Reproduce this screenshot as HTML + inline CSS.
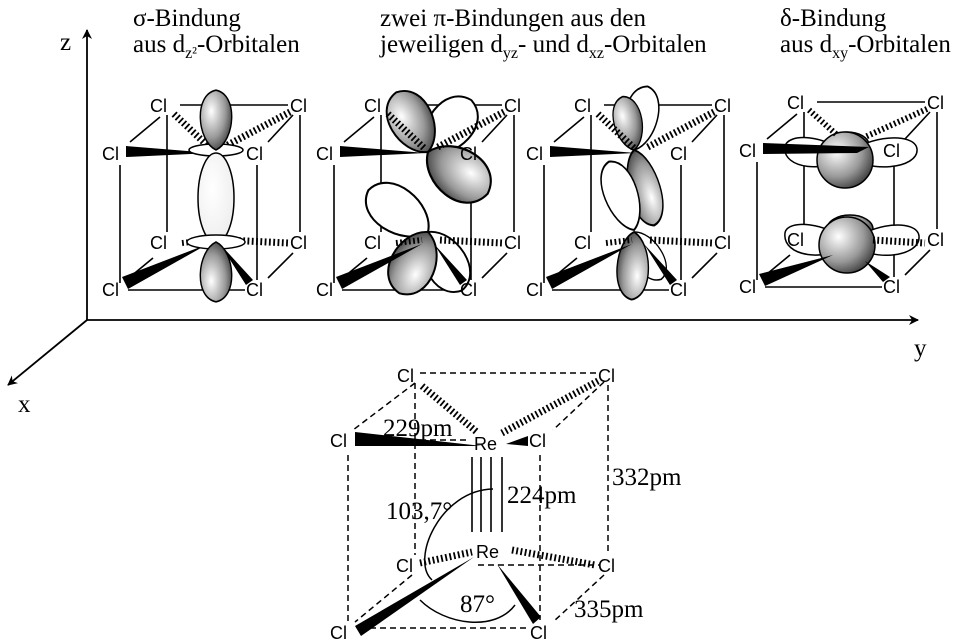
<!DOCTYPE html>
<html><head><meta charset="utf-8"><style>
body{margin:0;background:#fff}
svg{display:block}
.t{font-family:"Liberation Serif",serif;font-size:25px}
.c{font-family:"Liberation Sans",sans-serif;font-size:18px}
</style></head><body>
<svg width="960" height="644" viewBox="0 0 960 644" xmlns="http://www.w3.org/2000/svg">
<defs>
<radialGradient id="g" cx="0.35" cy="0.35" r="0.75"><stop offset="0" stop-color="#fff"/><stop offset="0.6" stop-color="#999"/><stop offset="1" stop-color="#333"/></radialGradient>
<radialGradient id="gw" cx="0.4" cy="0.4" r="0.8"><stop offset="0" stop-color="#fff"/><stop offset="0.8" stop-color="#eee"/><stop offset="1" stop-color="#999"/></radialGradient>
<marker id="ar" markerWidth="10" markerHeight="10" refX="9" refY="5" orient="auto" markerUnits="userSpaceOnUse"><path d="M0,0 L10,5 L0,10 L3,5Z" fill="#000"/></marker>
<path id="lobe" d="M0,0 C-20,-8 -24,-48 0,-52 C24,-48 20,-8 0,0Z"/>
<g id="frame" stroke="#000" stroke-width="1.6" fill="none">
<line x1="180" y1="105" x2="288" y2="105"/>
<line x1="167" y1="115" x2="167" y2="232"/><line x1="300" y1="115" x2="300" y2="232"/>
<line x1="120" y1="165" x2="120" y2="283"/><line x1="257" y1="165" x2="257" y2="280"/>
<line x1="128" y1="290" x2="245" y2="290"/>
<line x1="130" y1="142" x2="160" y2="117"/><line x1="268" y1="142" x2="293" y2="115"/>
<line x1="130" y1="277" x2="153" y2="258"/><line x1="268" y1="278" x2="293" y2="253"/>
</g>
<g id="cls" class="c">
<text x="150" y="112">Cl</text><text x="290" y="112">Cl</text>
<text x="102" y="160">Cl</text><text x="246" y="160">Cl</text>
<text x="150" y="249">Cl</text><text x="290" y="249">Cl</text>
<text x="102" y="296">Cl</text><text x="246" y="296">Cl</text>
</g>
<g id="bondsU">
<path d="M126,146 L126,157 L212,153Z" fill="#000"/>
<line x1="174" y1="114" x2="210" y2="148" stroke="#000" stroke-dasharray="1.8,2.5" stroke-width="7"/>
<line x1="290" y1="112" x2="222" y2="148" stroke="#000" stroke-dasharray="1.8,2.5" stroke-width="7"/>
</g>
<g id="bondsL">
<line x1="182" y1="243" x2="208" y2="240" stroke="#000" stroke-dasharray="1.8,2.5" stroke-width="6"/>
<line x1="226" y1="240" x2="288" y2="243" stroke="#000" stroke-dasharray="1.8,2.5" stroke-width="7"/>
<path d="M122,277 L128,289 L208,244Z" fill="#000"/>
<path d="M220,244 L246,285 L253,280Z" fill="#000"/>
</g>
</defs>

<g stroke="#000" stroke-width="1.8">
<line x1="87" y1="320" x2="87" y2="30" marker-end="url(#ar)"/>
<line x1="87" y1="320" x2="918" y2="320" marker-end="url(#ar)"/>
<line x1="87" y1="320" x2="8" y2="385" marker-end="url(#ar)"/>
</g>
<text class="t" x="60" y="50">z</text>
<text class="t" x="914" y="356">y</text>
<text class="t" x="18" y="412">x</text>

<text class="t" x="133" y="26">σ-Bindung</text>
<text class="t" x="133" y="52">aus d<tspan font-size="16" dy="6">z²</tspan><tspan dy="-6">-Orbitalen</tspan></text>
<text class="t" x="380" y="26">zwei π-Bindungen aus den</text>
<text class="t" x="380" y="52">jeweiligen d<tspan font-size="16" dy="6">yz</tspan><tspan dy="-6">- und d</tspan><tspan font-size="16" dy="6">xz</tspan><tspan dy="-6">-Orbitalen</tspan></text>
<text class="t" x="780" y="26">δ-Bindung</text>
<text class="t" x="780" y="52">aus d<tspan font-size="16" dy="6">xy</tspan><tspan dy="-6">-Orbitalen</tspan></text>

<!-- cube 1 sigma -->
<g>
<use href="#frame"/>
<use href="#bondsU"/><use href="#bondsL"/>
<g stroke="#000" stroke-width="1.5">
<ellipse cx="216" cy="150" rx="27" ry="6" fill="#fff"/>
<use href="#lobe" transform="translate(216,150) scale(0.95,1.15)" fill="url(#g)"/>
<ellipse cx="216" cy="198" rx="18" ry="45" fill="url(#gw)"/>
<ellipse cx="216" cy="242" rx="29" ry="7" fill="#fff"/>
<use href="#lobe" transform="translate(216,242) scale(0.95,-1.15)" fill="url(#g)"/>
</g>
<use href="#cls"/>
</g>

<!-- cube 2 pi -->
<g transform="translate(214,0)">
<use href="#frame"/>
<g stroke="#000" stroke-width="1.5">
<use href="#lobe" transform="translate(214,152) rotate(40) scale(1.35,1.3)" fill="#fff"/>
<use href="#lobe" transform="translate(214,152) rotate(-28) scale(1.3,1.3)" fill="url(#g)"/>
<use href="#lobe" transform="translate(214,232) rotate(-55) scale(1.35,1.4)" fill="#fff"/>
<use href="#lobe" transform="translate(214,152) rotate(125) scale(1.5,1.4)" fill="url(#g)"/>
</g>
<use href="#bondsU"/>
<g stroke="#000" stroke-width="1.5">
<use href="#lobe" transform="translate(214,232) rotate(150) scale(1.25,1.3)" fill="#fff"/>
<use href="#lobe" transform="translate(214,232) rotate(-155) scale(1.35,1.3)" fill="url(#g)"/>
</g>
<use href="#bondsL"/>
<use href="#cls"/>
</g>

<!-- cube 3 pi -->
<g transform="translate(424,0)">
<use href="#frame"/>
<g stroke="#000" stroke-width="1.5">
<use href="#lobe" transform="translate(210,150) rotate(12) scale(1.0,1.25)" fill="#fff"/>
<use href="#lobe" transform="translate(210,150) rotate(-12) scale(0.85,1.05)" fill="url(#g)"/>
<use href="#lobe" transform="translate(210,150) rotate(165) scale(0.95,1.5)" fill="url(#g)"/>
<use href="#lobe" transform="translate(210,230) rotate(-20) scale(1.0,1.4)" fill="#fff"/>
</g>
<use href="#bondsU"/>
<g stroke="#000" stroke-width="1.5">
<use href="#lobe" transform="translate(210,232) rotate(150) scale(0.85,1.05)" fill="#fff"/>
<use href="#lobe" transform="translate(210,232) rotate(-178) scale(0.95,1.3)" fill="url(#g)"/>
</g>
<use href="#bondsL"/>
<use href="#cls"/>
</g>

<!-- cube 4 delta -->
<g transform="translate(637,-3)">
<use href="#frame"/>
<g stroke="#000" stroke-width="1.5">
<ellipse cx="210" cy="148" rx="22" ry="13" fill="url(#g)"/>
<path d="M210,158 C190,138 150,135 148,150 C145,172 190,177 210,158 C230,177 282,172 280,152 C278,135 230,138 210,158Z" fill="#fff"/>
<circle cx="208" cy="163" r="28" fill="url(#g)"/>
<ellipse cx="213" cy="232" rx="23" ry="14" fill="url(#g)"/>
<path d="M213,246 C190,225 150,222 148,236 C145,260 190,266 213,246 C235,266 284,260 282,239 C280,222 235,225 213,246Z" fill="#fff"/>
<circle cx="210" cy="248" r="28" fill="url(#g)"/>
</g>
<path d="M126,146 L126,157 L220,156 L232,150Z" fill="#000"/>
<line x1="172" y1="113" x2="200" y2="138" stroke="#000" stroke-dasharray="1.8,2.5" stroke-width="6"/>
<line x1="290" y1="112" x2="228" y2="140" stroke="#000" stroke-dasharray="1.8,2.5" stroke-width="6"/>
<line x1="236" y1="243" x2="288" y2="246" stroke="#000" stroke-dasharray="1.8,2.5" stroke-width="7"/>
<path d="M122,277 L128,289 L196,258Z" fill="#000"/>
<path d="M228,264 L246,285 L253,280Z" fill="#000"/>
<use href="#cls"/>
</g>

<!-- bottom molecule -->
<g stroke="#000" stroke-width="1.5" stroke-dasharray="6,4" fill="none">
<line x1="420" y1="373" x2="600" y2="373"/>
<line x1="415" y1="383" x2="353" y2="430"/>
<line x1="604" y1="382" x2="553" y2="430"/>
<line x1="348" y1="455" x2="348" y2="625"/>
<line x1="540" y1="455" x2="540" y2="620"/>
<line x1="415" y1="383" x2="415" y2="555"/>
<line x1="608" y1="385" x2="608" y2="555"/>
<line x1="360" y1="628" x2="530" y2="628"/>
<line x1="478" y1="565" x2="600" y2="565"/>
<line x1="412" y1="575" x2="355" y2="622"/>
<line x1="604" y1="575" x2="553" y2="622"/>
<line x1="360" y1="440" x2="470" y2="440"/>
</g>
<g stroke="#000" stroke-width="1.6">
<line x1="472" y1="457" x2="472" y2="532"/>
<line x1="481" y1="457" x2="481" y2="532"/>
<line x1="491" y1="457" x2="491" y2="532"/>
<line x1="502" y1="457" x2="502" y2="532"/>
<line x1="422" y1="386" x2="478" y2="433" stroke-dasharray="1.8,2.5" stroke-width="7"/>
<line x1="598" y1="381" x2="502" y2="433" stroke-dasharray="1.8,2.5" stroke-width="7"/>
<line x1="420" y1="563" x2="472" y2="552" stroke-dasharray="1.8,2.5" stroke-width="7"/>
<line x1="512" y1="550" x2="595" y2="565" stroke-dasharray="1.8,2.5" stroke-width="7"/>
</g>
<path d="M355,432 L355,446 L482,446Z" fill="#000"/>
<path d="M506,444 L528,436 L528,446Z" fill="#000"/>
<path d="M355,626 L361,636 L474,557Z" fill="#000"/>
<path d="M497,564 L533,624 L541,617Z" fill="#000"/>
<path d="M493,489 C440,490 410,560 432,580" stroke="#000" stroke-width="1.5" fill="none"/>
<path d="M420,600 C445,625 495,632 515,605" stroke="#000" stroke-width="1.5" fill="none"/>
<g class="c">
<text x="397" y="382">Cl</text><text x="598" y="382">Cl</text>
<text x="330" y="447">Cl</text><text x="474" y="450">Re</text><text x="529" y="447">Cl</text>
<text x="476" y="558">Re</text>
<text x="396" y="572">Cl</text><text x="598" y="572">Cl</text>
<text x="330" y="639">Cl</text><text x="530" y="639">Cl</text>
</g>
<g class="t">
<text x="383" y="436">229pm</text>
<text x="507" y="503">224pm</text>
<text x="386" y="519">103,7°</text>
<text x="460" y="612">87°</text>
<text x="612" y="485">332pm</text>
<text x="574" y="617">335pm</text>
</g>
</svg>
</body></html>
